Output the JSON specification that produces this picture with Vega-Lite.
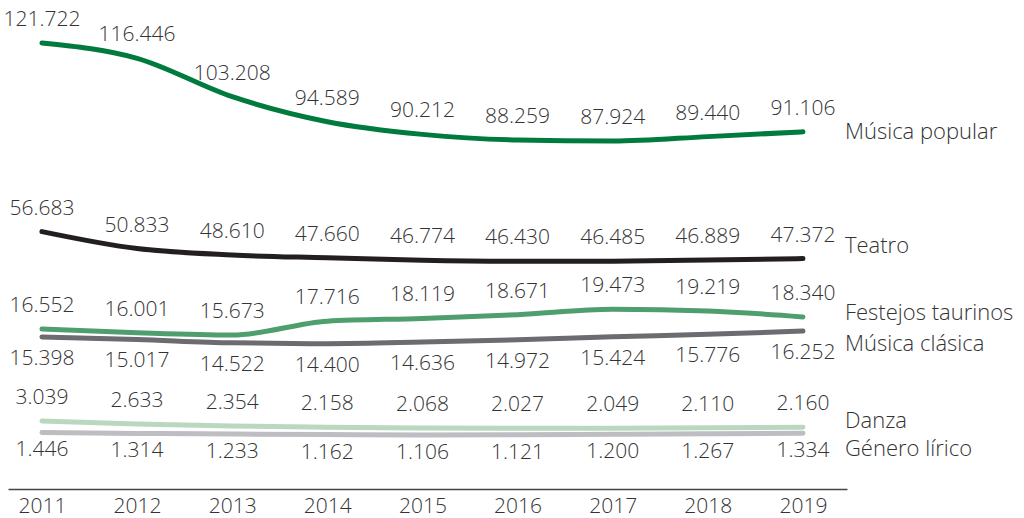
{
  "$schema": "https://vega.github.io/schema/vega-lite/v6.json",
  "width": 839,
  "height": 489,
  "autosize": {"type": "none"},
  "padding": {"left": 8, "top": 0, "right": 177, "bottom": 29},
  "background": "white",
  "config": {
    "view": {"stroke": null},
    "font": "Open Sans",
    "text": {"font": "Open Sans", "fontSize": 21, "fontWeight": 300, "color": "#333333"}
  },
  "data": {
    "values": [
      {"serie": "Música popular", "year": 2011, "value": 121.722, "label": "121.722"},
      {"serie": "Música popular", "year": 2012, "value": 116.446, "label": "116.446"},
      {"serie": "Música popular", "year": 2013, "value": 103.208, "label": "103.208"},
      {"serie": "Música popular", "year": 2014, "value": 94.589, "label": "94.589"},
      {"serie": "Música popular", "year": 2015, "value": 90.212, "label": "90.212"},
      {"serie": "Música popular", "year": 2016, "value": 88.259, "label": "88.259"},
      {"serie": "Música popular", "year": 2017, "value": 87.924, "label": "87.924"},
      {"serie": "Música popular", "year": 2018, "value": 89.440, "label": "89.440"},
      {"serie": "Música popular", "year": 2019, "value": 91.106, "label": "91.106"},
      {"serie": "Teatro", "year": 2011, "value": 56.683, "label": "56.683"},
      {"serie": "Teatro", "year": 2012, "value": 50.833, "label": "50.833"},
      {"serie": "Teatro", "year": 2013, "value": 48.610, "label": "48.610"},
      {"serie": "Teatro", "year": 2014, "value": 47.660, "label": "47.660"},
      {"serie": "Teatro", "year": 2015, "value": 46.774, "label": "46.774"},
      {"serie": "Teatro", "year": 2016, "value": 46.430, "label": "46.430"},
      {"serie": "Teatro", "year": 2017, "value": 46.485, "label": "46.485"},
      {"serie": "Teatro", "year": 2018, "value": 46.889, "label": "46.889"},
      {"serie": "Teatro", "year": 2019, "value": 47.372, "label": "47.372"},
      {"serie": "Festejos taurinos", "year": 2011, "value": 16.552, "label": "16.552"},
      {"serie": "Festejos taurinos", "year": 2012, "value": 16.001, "label": "16.001"},
      {"serie": "Festejos taurinos", "year": 2013, "value": 15.673, "label": "15.673"},
      {"serie": "Festejos taurinos", "year": 2014, "value": 17.716, "label": "17.716"},
      {"serie": "Festejos taurinos", "year": 2015, "value": 18.119, "label": "18.119"},
      {"serie": "Festejos taurinos", "year": 2016, "value": 18.671, "label": "18.671"},
      {"serie": "Festejos taurinos", "year": 2017, "value": 19.473, "label": "19.473"},
      {"serie": "Festejos taurinos", "year": 2018, "value": 19.219, "label": "19.219"},
      {"serie": "Festejos taurinos", "year": 2019, "value": 18.340, "label": "18.340"},
      {"serie": "Música clásica", "year": 2011, "value": 15.398, "label": "15.398"},
      {"serie": "Música clásica", "year": 2012, "value": 15.017, "label": "15.017"},
      {"serie": "Música clásica", "year": 2013, "value": 14.522, "label": "14.522"},
      {"serie": "Música clásica", "year": 2014, "value": 14.400, "label": "14.400"},
      {"serie": "Música clásica", "year": 2015, "value": 14.636, "label": "14.636"},
      {"serie": "Música clásica", "year": 2016, "value": 14.972, "label": "14.972"},
      {"serie": "Música clásica", "year": 2017, "value": 15.424, "label": "15.424"},
      {"serie": "Música clásica", "year": 2018, "value": 15.776, "label": "15.776"},
      {"serie": "Música clásica", "year": 2019, "value": 16.252, "label": "16.252"},
      {"serie": "Danza", "year": 2011, "value": 3.039, "label": "3.039"},
      {"serie": "Danza", "year": 2012, "value": 2.633, "label": "2.633"},
      {"serie": "Danza", "year": 2013, "value": 2.354, "label": "2.354"},
      {"serie": "Danza", "year": 2014, "value": 2.158, "label": "2.158"},
      {"serie": "Danza", "year": 2015, "value": 2.068, "label": "2.068"},
      {"serie": "Danza", "year": 2016, "value": 2.027, "label": "2.027"},
      {"serie": "Danza", "year": 2017, "value": 2.049, "label": "2.049"},
      {"serie": "Danza", "year": 2018, "value": 2.110, "label": "2.110"},
      {"serie": "Danza", "year": 2019, "value": 2.160, "label": "2.160"},
      {"serie": "Género lírico", "year": 2011, "value": 1.446, "label": "1.446"},
      {"serie": "Género lírico", "year": 2012, "value": 1.314, "label": "1.314"},
      {"serie": "Género lírico", "year": 2013, "value": 1.233, "label": "1.233"},
      {"serie": "Género lírico", "year": 2014, "value": 1.162, "label": "1.162"},
      {"serie": "Género lírico", "year": 2015, "value": 1.106, "label": "1.106"},
      {"serie": "Género lírico", "year": 2016, "value": 1.121, "label": "1.121"},
      {"serie": "Género lírico", "year": 2017, "value": 1.200, "label": "1.200"},
      {"serie": "Género lírico", "year": 2018, "value": 1.267, "label": "1.267"},
      {"serie": "Género lírico", "year": 2019, "value": 1.334, "label": "1.334"}
    ]
  },
  "encoding": {
    "x": {
      "field": "year", "type": "quantitative",
      "scale": {"domain": [2010.643, 2019.463], "nice": false, "zero": false},
      "axis": {
        "values": [2011, 2012, 2013, 2014, 2015, 2016, 2017, 2018, 2019],
        "format": "d", "title": null, "grid": false, "ticks": false, "tickSize": 0,
        "domain": true, "domainColor": "#444444", "domainWidth": 1.5,
        "labelFont": "Open Sans", "labelFontSize": 21, "labelFontWeight": 300, "labelColor": "#333333",
        "labelBaseline": "alphabetic", "labelPadding": 23, "labelFlush": false
      }
    },
    "y": {
      "field": "value", "type": "quantitative",
      "scale": {
        "domain": [1.0, 3.1, 14, 20, 46, 122],
        "range": [435.7, 420.6, 346.4, 305.6, 262.6, 42.2],
        "nice": false, "zero": false
      },
      "axis": null
    }
  },
  "layer": [
    {
      "mark": {"type": "line", "interpolate": "monotone", "strokeWidth": 5, "strokeCap": "round"},
      "encoding": {
        "detail": {"field": "serie"},
        "color": {
          "field": "serie", "type": "nominal", "legend": null,
          "scale": {
            "domain": ["Música popular", "Teatro", "Festejos taurinos", "Música clásica", "Danza", "Género lírico"],
            "range": ["#007a3d", "#231f20", "#4e9e6e", "#6b6b70", "#b8d9c0", "#bdbdc2"]
          }
        }
      }
    },
    {
      "transform": [{"filter": "indexof(['Música popular','Teatro','Festejos taurinos','Danza'], datum.serie) >= 0"}],
      "mark": {"type": "text", "dy": -23, "baseline": "middle", "align": "center"},
      "encoding": {"text": {"field": "label"}}
    },
    {
      "transform": [{"filter": "datum.serie == 'Música clásica'"}],
      "mark": {"type": "text", "dy": 22, "baseline": "middle", "align": "center"},
      "encoding": {"text": {"field": "label"}}
    },
    {
      "transform": [{"filter": "datum.serie == 'Género lírico'"}],
      "mark": {"type": "text", "dy": 18, "baseline": "middle", "align": "center"},
      "encoding": {"text": {"field": "label"}}
    },
    {
      "transform": [{"filter": "datum.year == 2019 && datum.serie == 'Música popular'"}],
      "mark": {"type": "text", "dx": 42, "dy": 0, "baseline": "middle", "align": "left", "fontSize": 22},
      "encoding": {"text": {"field": "serie"}}
    },
    {
      "transform": [{"filter": "datum.year == 2019 && datum.serie == 'Teatro'"}],
      "mark": {"type": "text", "dx": 42, "dy": -13, "baseline": "middle", "align": "left", "fontSize": 22},
      "encoding": {"text": {"field": "serie"}}
    },
    {
      "transform": [{"filter": "datum.year == 2019 && datum.serie == 'Festejos taurinos'"}],
      "mark": {"type": "text", "dx": 42, "dy": -4, "baseline": "middle", "align": "left", "fontSize": 22},
      "encoding": {"text": {"field": "serie"}}
    },
    {
      "transform": [{"filter": "datum.year == 2019 && datum.serie == 'Música clásica'"}],
      "mark": {"type": "text", "dx": 42, "dy": 13, "baseline": "middle", "align": "left", "fontSize": 22},
      "encoding": {"text": {"field": "serie"}}
    },
    {
      "transform": [{"filter": "datum.year == 2019 && datum.serie == 'Danza'"}],
      "mark": {"type": "text", "dx": 42, "dy": -6, "baseline": "middle", "align": "left", "fontSize": 22},
      "encoding": {"text": {"field": "serie"}}
    },
    {
      "transform": [{"filter": "datum.year == 2019 && datum.serie == 'Género lírico'"}],
      "mark": {"type": "text", "dx": 42, "dy": 16, "baseline": "middle", "align": "left", "fontSize": 22},
      "encoding": {"text": {"field": "serie"}}
    }
  ]
}
